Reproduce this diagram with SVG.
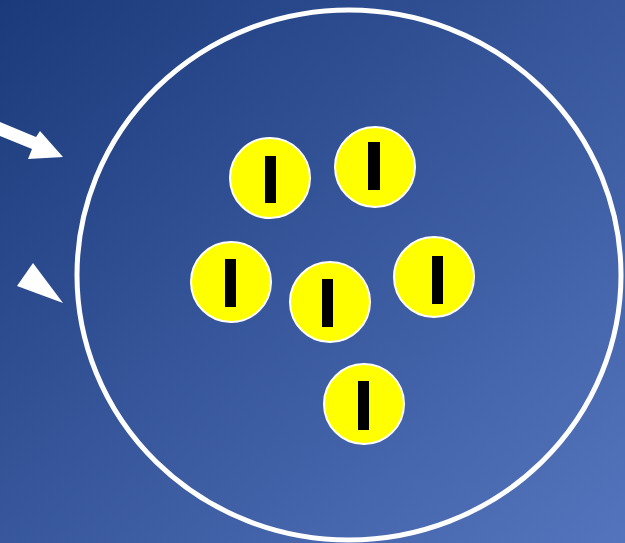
<svg xmlns="http://www.w3.org/2000/svg" width="625" height="543" viewBox="0 0 625 543">
<style>
.ion circle{fill:#ffff00;stroke:#ffffff;stroke-width:2}
.ion rect{fill:#000000}
.arrow{fill:#ffffff}
</style>
<defs>
<linearGradient id="bg" x1="0" y1="0" x2="1" y2="1">
<stop offset="0" stop-color="#1b3a7b"/>
<stop offset="1" stop-color="#5474bd"/>
</linearGradient>
</defs>
<rect x="0" y="0" width="625" height="543" fill="url(#bg)"/>
<g id="cell">
<ellipse cx="349" cy="275" rx="272" ry="265" fill="none" stroke="#ffffff" stroke-width="5"/>
</g>
<g id="connectors">
<polygon class="arrow" points="0,122 36,137 40,131 63,157 28,159 32,149 0,136"/>
<polygon class="arrow" points="33,263 63,303 17,286"/>
</g>
<g id="ion1" class="ion"><circle cx="270" cy="178" r="40"/><rect x="265" y="156" width="11" height="47"/></g>
<g id="ion2" class="ion"><circle cx="375" cy="167" r="40"/><rect x="368" y="142" width="12" height="48"/></g>
<g id="ion3" class="ion"><circle cx="231" cy="282" r="40"/><rect x="225" y="259" width="11" height="48"/></g>
<g id="ion4" class="ion"><circle cx="330" cy="302" r="40"/><rect x="322" y="279" width="11" height="48"/></g>
<g id="ion5" class="ion"><circle cx="434" cy="277" r="40"/><rect x="432" y="256" width="11" height="48"/></g>
<g id="ion6" class="ion"><circle cx="364" cy="404" r="40"/><rect x="358" y="381" width="11" height="49"/></g>
</svg>
